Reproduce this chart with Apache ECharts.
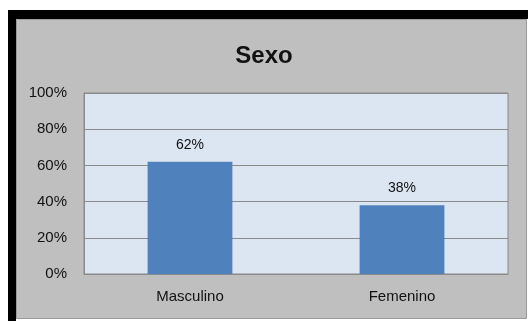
<!DOCTYPE html>
<html>
<head>
<meta charset="utf-8">
<style>
html,body{margin:0;padding:0;background:#fff;}
#chart{width:528px;height:321px;}
</style>
<script src="https://cdn.jsdelivr.net/npm/echarts@6/dist/echarts.min.js"></script>
</head>
<body>
<div id="chart"></div>
<script>
const categories = ['Masculino', 'Femenino'];
const values = [62, 38];
const yTicks = [0, 20, 40, 60, 80, 100];

const chart = echarts.init(document.getElementById('chart'));
chart.setOption({
  backgroundColor: '#ffffff',
  animation: false,
  graphic: [
    { type: 'rect', z: -10, shape: { x: 8, y: 10, width: 520, height: 9 }, style: { fill: '#000' } },
    { type: 'rect', z: -10, shape: { x: 8, y: 10, width: 8, height: 311 }, style: { fill: '#000' } },
    { type: 'rect', z: -9, shape: { x: 16.5, y: 19.5, width: 510, height: 299 }, style: { fill: '#bfbfbf', stroke: '#9a9a9a', lineWidth: 1 } }
  ],
  title: {
    text: 'Sexo',
    left: 'center',
    top: 39,
    textStyle: { fontFamily: 'Liberation Sans', fontSize: 24, fontWeight: 'bold', color: '#111' }
  },
  grid: {
    left: 84, right: 20, top: 93, bottom: 47,
    show: true, backgroundColor: '#dce6f2', borderColor: '#8a8a8a', borderWidth: 1
  },
  xAxis: {
    type: 'category',
    data: categories,
    axisLine: { lineStyle: { color: '#8a8a8a' } },
    axisTick: { show: false },
    axisLabel: { margin: 15, fontFamily: 'Liberation Sans', fontSize: 15, color: '#111' }
  },
  yAxis: {
    type: 'value',
    min: 0, max: 100, interval: 20,
    axisLine: { show: true, lineStyle: { color: '#8a8a8a' } },
    axisTick: { show: false },
    splitLine: { lineStyle: { color: '#8a8a8a' } },
    axisLabel: {
      margin: 17, fontFamily: 'Liberation Sans', fontSize: 15, color: '#111',
      formatter: v => yTicks.includes(v) ? v + '%' : ''
    }
  },
  series: [{
    type: 'bar',
    data: values,
    barWidth: '40%',
    itemStyle: { color: '#4f81bd' },
    label: {
      show: true, position: 'top', distance: 10,
      fontFamily: 'Liberation Sans', fontSize: 14, color: '#111',
      formatter: p => p.value + '%'
    }
  }]
});
</script>
</body>
</html>
